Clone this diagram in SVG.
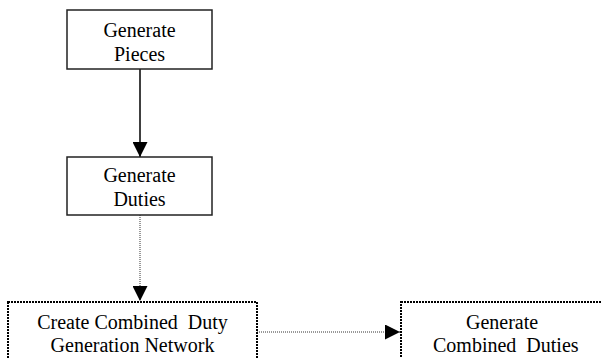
<svg xmlns="http://www.w3.org/2000/svg" width="601" height="358" viewBox="0 0 601 358">
<style>
.solid{fill:#fff;stroke:#222;stroke-width:1.5}
.dotbox{fill:#fff;stroke:#000;stroke-width:2;stroke-dasharray:2 1}
.t{font-family:"Liberation Serif","Times New Roman",serif;font-size:20px;fill:#000;white-space:pre}
.c{text-anchor:middle}
.line{stroke:#000;stroke-width:1.5;fill:none}
.dline{stroke:#333;stroke-width:1;stroke-dasharray:1 1;fill:none}
</style>
<defs>
<marker id="ah" markerWidth="15" markerHeight="15" viewBox="0 0 15 15" refX="15" refY="7.5" markerUnits="userSpaceOnUse" orient="auto">
<path d="M0,0 L15,7.5 L0,15 Z" fill="#000"/>
</marker>
</defs>
<rect width="601" height="358" fill="#fff"/>
<g id="connectors">
<line class="line" x1="140" y1="69" x2="140" y2="157" marker-end="url(#ah)"/>
<line class="dline" x1="140" y1="215" x2="140" y2="301" marker-end="url(#ah)"/>
<line class="dline" x1="257" y1="332" x2="400" y2="332" marker-end="url(#ah)"/>
</g>
<g id="n1">
<rect class="solid" x="67" y="10" width="145" height="59"/>
<text class="t c" x="139.5" y="37">Generate</text>
<text class="t c" x="139.5" y="61">Pieces</text>
</g>
<g id="n2">
<rect class="solid" x="67" y="157" width="145" height="58"/>
<text class="t c" x="139.5" y="182">Generate</text>
<text class="t c" x="139.5" y="206">Duties</text>
</g>
<g id="n3">
<rect class="dotbox" x="8" y="302" width="249" height="70"/>
<text class="t c" x="132.5" y="329">Create Combined  Duty</text>
<text class="t c" x="132.5" y="352">Generation Network</text>
</g>
<g id="n4">
<rect class="dotbox" x="401" y="302" width="220" height="70"/>
<text class="t" x="466" y="329">Generate</text>
<text class="t" x="433" y="352">Combined  Duties</text>
</g>
</svg>
